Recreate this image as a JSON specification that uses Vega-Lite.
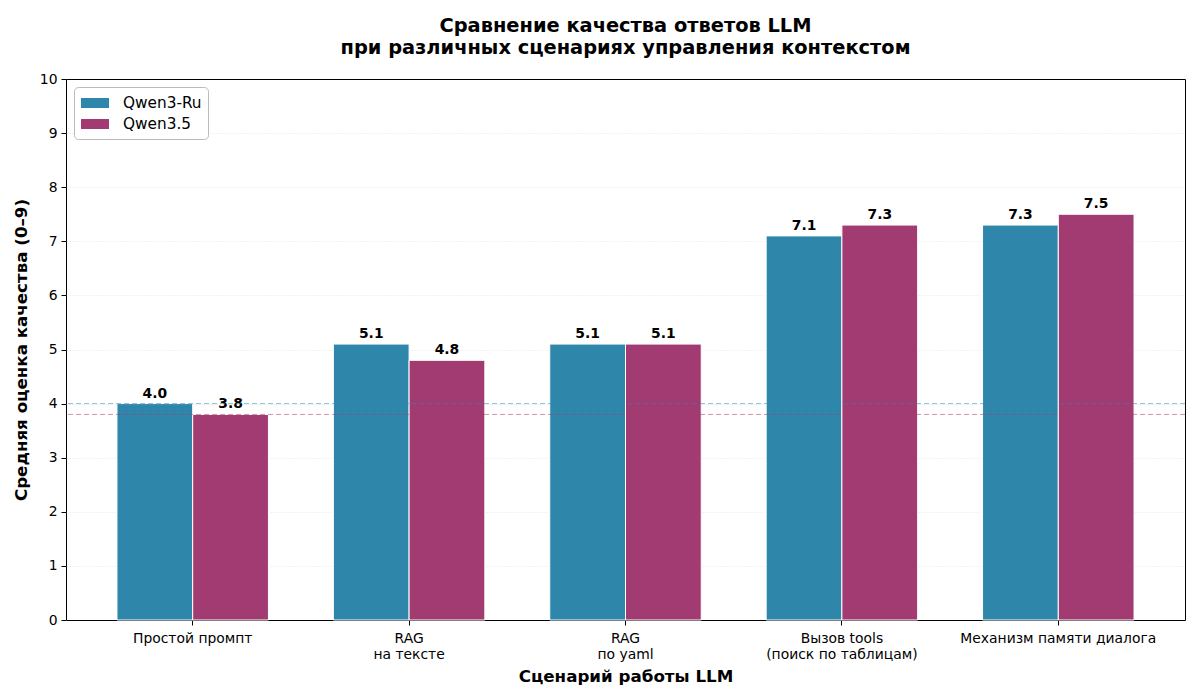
{
  "$schema": "https://vega.github.io/schema/vega-lite/v6.json",
  "width": 1119,
  "height": 541,
  "autosize": "none",
  "padding": {"left": 66, "top": 79, "right": 14, "bottom": 79},
  "background": "white",
  "config": {
    "font": "DejaVu Sans",
    "view": {"stroke": "black", "strokeWidth": 1}
  },
  "title": {
    "text": ["Сравнение качества ответов LLM", "при различных сценариях управления контекстом"],
    "fontSize": 19.4,
    "fontWeight": "bold",
    "color": "black",
    "anchor": "middle",
    "lineHeight": 22,
    "offset": 14
  },
  "datasets": {
    "bars": [
      {"scenario": "Простой промпт", "model": "Qwen3-Ru", "score": 4.0},
      {"scenario": "Простой промпт", "model": "Qwen3.5", "score": 3.8},
      {"scenario": "RAG|на тексте", "model": "Qwen3-Ru", "score": 5.1},
      {"scenario": "RAG|на тексте", "model": "Qwen3.5", "score": 4.8},
      {"scenario": "RAG|по yaml", "model": "Qwen3-Ru", "score": 5.1},
      {"scenario": "RAG|по yaml", "model": "Qwen3.5", "score": 5.1},
      {"scenario": "Вызов tools|(поиск по таблицам)", "model": "Qwen3-Ru", "score": 7.1},
      {"scenario": "Вызов tools|(поиск по таблицам)", "model": "Qwen3.5", "score": 7.3},
      {"scenario": "Механизм памяти диалога", "model": "Qwen3-Ru", "score": 7.3},
      {"scenario": "Механизм памяти диалога", "model": "Qwen3.5", "score": 7.5}
    ],
    "baselines": [
      {"model": "Qwen3-Ru", "score": 4.0},
      {"model": "Qwen3.5", "score": 3.8}
    ]
  },
  "layer": [
    {
      "data": {"name": "bars"},
      "mark": {"type": "bar", "stroke": "white", "strokeWidth": 1},
      "encoding": {
        "x": {
          "field": "scenario",
          "type": "nominal",
          "sort": null,
          "scale": {"paddingInner": 0.3, "paddingOuter": 0.2355},
          "axis": {
            "title": "Сценарий работы LLM",
            "titleFontSize": 16.7,
            "titleFontWeight": "bold",
            "titleColor": "black",
            "titlePadding": 8,
            "labelAngle": 0,
            "labelFontSize": 13.9,
            "labelColor": "black",
            "labelPadding": 6,
            "labelLimit": 0,
            "labelExpr": "split(datum.label, '|')",
            "labelLineHeight": 16,
            "tickColor": "black",
            "tickSize": 5,
            "domain": false,
            "grid": false
          }
        },
        "xOffset": {"field": "model", "type": "nominal", "scale": {"paddingInner": 0, "paddingOuter": 0}},
        "y": {
          "field": "score",
          "type": "quantitative",
          "scale": {"domain": [0, 10], "nice": false},
          "axis": {
            "title": "Средняя оценка качества (0–9)",
            "titleFontSize": 16.7,
            "titleFontWeight": "bold",
            "titleColor": "black",
            "titlePadding": 9,
            "values": [0, 1, 2, 3, 4, 5, 6, 7, 8, 9, 10],
            "labelFontSize": 13.9,
            "labelColor": "black",
            "labelPadding": 4,
            "tickColor": "black",
            "tickSize": 5,
            "domain": false,
            "grid": true,
            "gridColor": "#dddddd",
            "gridDash": [1, 2],
            "gridWidth": 0.7,
            "gridOpacity": {"condition": {"test": "datum.value == 0 || datum.value == 10", "value": 0}, "value": 1}
          }
        },
        "color": {
          "field": "model",
          "type": "nominal",
          "scale": {"domain": ["Qwen3-Ru", "Qwen3.5"], "range": ["#2E86AB", "#A23B72"]},
          "legend": {
            "title": null,
            "orient": "top-left",
            "offset": 8,
            "labelFontSize": 15.3,
            "labelColor": "black",
            "symbolType": "M-1.4,-0.5H1.4V0.5H-1.4Z",
            "symbolSize": 400,
            "symbolStrokeWidth": 0,
            "symbolOpacity": 1,
            "symbolOffset": 5,
            "rowPadding": 2,
            "labelOffset": 18,
            "padding": 6,
            "fillColor": "white",
            "strokeColor": "#bbbbbb",
            "cornerRadius": 4
          }
        }
      }
    },
    {
      "data": {"name": "bars"},
      "mark": {"type": "text", "fontWeight": "bold", "fontSize": 13.9, "dy": -10, "color": "black"},
      "encoding": {
        "x": {"field": "scenario", "type": "nominal", "sort": null},
        "xOffset": {"field": "model", "type": "nominal"},
        "y": {"field": "score", "type": "quantitative"},
        "text": {"field": "score", "type": "quantitative", "format": ".1f"}
      }
    },
    {
      "data": {"name": "baselines"},
      "mark": {"type": "rule", "strokeDash": [5, 3], "strokeWidth": 1, "opacity": 0.55},
      "encoding": {
        "y": {"field": "score", "type": "quantitative"},
        "color": {"field": "model", "type": "nominal"}
      }
    }
  ]
}
